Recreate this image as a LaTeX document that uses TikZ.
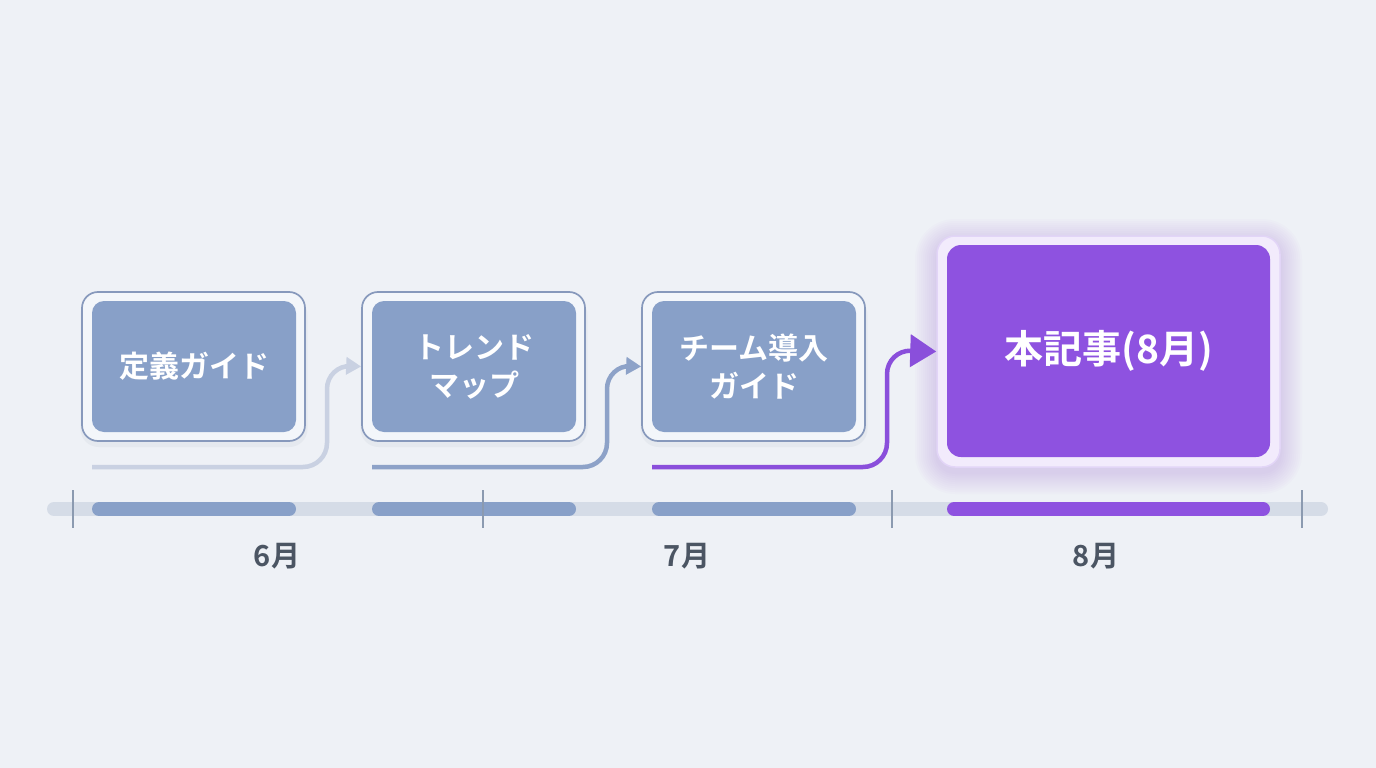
\documentclass[tikz,border=0pt]{standalone}
\usepackage{fontspec}
\newfontfamily\jp{Noto Sans CJK JP}[BoldFont={Noto Sans CJK JP Bold}]
\usetikzlibrary{arrows.meta}
\definecolor{bgc}{HTML}{EEF1F6}
\definecolor{outerline}{HTML}{8799BC}
\definecolor{outerfill}{HTML}{F3F6FA}
\definecolor{innerblue}{HTML}{88A0C8}
\definecolor{innerpurple}{HTML}{8E52E0}
\definecolor{purpleouter}{HTML}{F2EBFC}
\definecolor{purpleline}{HTML}{E2D5F7}
\definecolor{arrowA}{HTML}{C9D1E2}
\definecolor{arrowB}{HTML}{8DA2C8}
\definecolor{arrowC}{HTML}{8A4FDB}
\definecolor{trackc}{HTML}{D5DCE7}
\definecolor{tickc}{HTML}{8B9AB0}
\definecolor{monthc}{HTML}{4B5563}
\tikzset{
  outerbox/.style={draw=outerline, line width=1.7pt, fill=outerfill, rounded corners=16pt,
    minimum width=223pt, minimum height=149pt, inner sep=0pt},
  innerbox/.style={fill=innerblue, rounded corners=12pt, minimum width=204pt, minimum height=131pt,
    inner sep=0pt, text=white, font=\jp\bfseries\fontsize{30}{38}\selectfont, align=center},
  conn/.style={line width=4.5pt, rounded corners=24pt},
  track/.style={line width=14pt, line cap=round},
  tickmark/.style={draw=tickc, line width=1.2pt},
  month/.style={text=monthc, font=\jp\bfseries\fontsize{29}{30}\selectfont},
}
\begin{document}
\begin{tikzpicture}[x=1pt,y=-1pt]
\fill[bgc] (0,0) rectangle (1376,768);
\useasboundingbox (0,0) rectangle (1376,768);

% timeline
\draw[track, trackc] (54,509) -- (1321,509);
\draw[track, innerblue] (99,509) -- (289,509);
\draw[track, innerblue] (379,509) -- (569,509);
\draw[track, innerblue] (659,509) -- (849,509);
\draw[track, innerpurple] (954,509) -- (1263,509);
\foreach \x/\n in {73/t1,483/t2,892/t3,1302/t4}{
  \coordinate (\n a) at (\x,490); \coordinate (\n b) at (\x,528);
  \draw[tickmark] (\n a) -- (\n b);
}
\node[month] (m6) at (277,556) {6月};
\node[month] (m7) at (687,556) {7月};
\node[month] (m8) at (1096,556) {8月};

% faint shadows
\foreach \cx in {193.5,473.5,753.5}{
  \fill[black!40!outerline, opacity=0.05, rounded corners=18pt] (\cx-113,297) rectangle (\cx+114,447);
}

% boxes 1-3
\node[outerbox] (o1) at (193.5,366.5) {};
\node[innerbox] (b1) at (194,366.5) {定義ガイド};
\node[outerbox] (o2) at (473.5,366.5) {};
\node[innerbox] (b2) at (474,366.5) {トレンド\\マップ};
\node[outerbox] (o3) at (753.5,366.5) {};
\node[innerbox] (b3) at (754,366.5) {チーム導入\\ガイド};

% soft glow for box 4
\foreach \d in {22,20,...,2}{
  \fill[innerpurple, opacity=0.018, rounded corners=18pt+\d] (937-\d,236-\d+5) rectangle (1280+\d,467+\d+5);
}
\node[draw=purpleline, line width=1.5pt, fill=purpleouter, rounded corners=18pt,
  minimum width=343pt, minimum height=231pt, inner sep=0pt] (o4) at (1108.5,351.5) {};
\node[fill=innerpurple, rounded corners=14pt, minimum width=323pt, minimum height=212pt, inner sep=0pt,
  text=white, font=\jp\bfseries\fontsize{39}{40}\selectfont] (b4) at (1108.5,351) {本記事(8月)};

% connectors
\coordinate (s1) at (92,467);
\coordinate (s2) at (372,467);
\coordinate (s3) at (652,467);
\draw[conn, arrowA, -{Triangle[length=15pt,width=17pt]}] (s1) -- (327,467) -- (327,365) -- (o2.west);
\draw[conn, arrowB, -{Triangle[length=15pt,width=17pt]}] (s2) -- (607,467) -- (607,365) -- (o3.west);
\draw[conn, arrowC, -{Triangle[length=26pt,width=32pt]}] (s3) -- (887,467) -- (887,350) -- (o4.west);
\end{tikzpicture}
\end{document}
